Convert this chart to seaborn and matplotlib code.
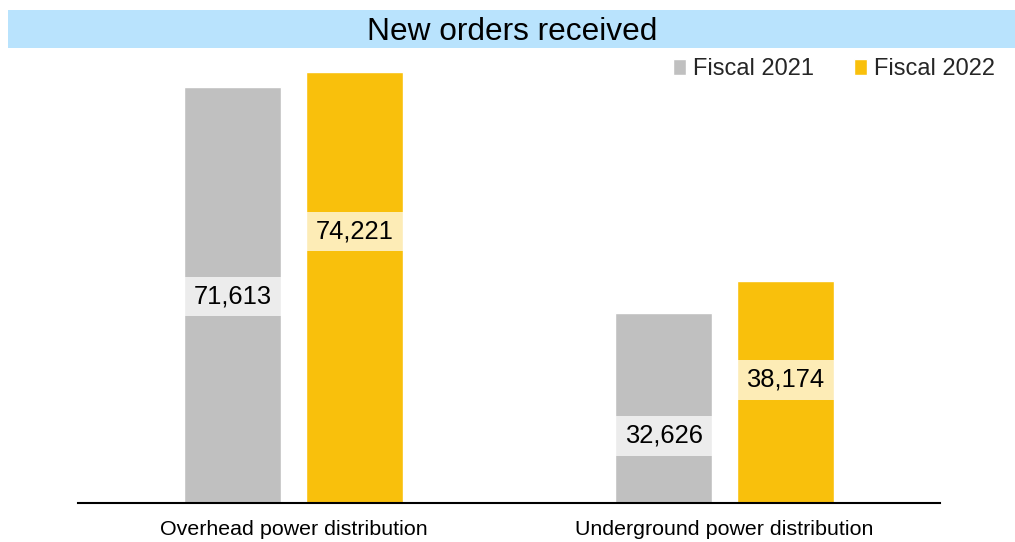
import matplotlib
matplotlib.use("Agg")
import matplotlib.pyplot as plt
from matplotlib.patches import Rectangle
import pandas as pd
import seaborn as sns

categories = ["Overhead power distribution", "Underground power distribution"]
years = ["Fiscal 2021", "Fiscal 2022"]
fiscal_2021 = [71613, 32626]
fiscal_2022 = [74221, 38174]
colors = ["#c0c0c0", "#f9c00c"]

# where each value label sits, as a fraction of its bar height
label_frac_2021 = [0.496, 0.354]
label_frac_2022 = [0.630, 0.555]

df = pd.DataFrame({
    "category": categories * 2,
    "year": [years[0]] * 2 + [years[1]] * 2,
    "orders": fiscal_2021 + fiscal_2022,
})

sns.set_theme(style="white")
plt.rcParams["font.family"] = ["Liberation Sans", "DejaVu Sans"]

fig = plt.figure(figsize=(10.15, 5.42), dpi=100)
ax = fig.add_axes([0.0768, 0.072, 0.8493, 0.8147])

sns.barplot(data=df, x="category", y="orders", hue="year", palette=colors,
            width=0.565, gap=0.2, saturation=1, ax=ax)

ax.set_ylim(0, 76000)
ax.set_xlim(-0.5, 1.5)
ax.set_xlabel("")
ax.set_ylabel("")
ax.set_yticks([])
ax.tick_params(axis="x", length=0, pad=12, labelsize=15.4, colors="black")
for side in ["top", "left", "right"]:
    ax.spines[side].set_visible(False)
ax.spines["bottom"].set_color("black")
ax.spines["bottom"].set_linewidth(1.5)

# value labels on semi-transparent boxes across the bar width
box_h = 6800
for container, fracs in zip(ax.containers, [label_frac_2021, label_frac_2022]):
    for bar, val, frac in zip(container.patches, container.datavalues, fracs):
        cy = bar.get_y() + bar.get_height() * frac
        ax.add_patch(Rectangle((bar.get_x(), cy - box_h / 2), bar.get_width(), box_h,
                               facecolor="white", alpha=0.7, edgecolor="none", zorder=3))
        ax.text(bar.get_x() + bar.get_width() / 2, cy, f"{val:,.0f}", ha="center",
                va="center", fontsize=18.4, color="black", zorder=4)

handles, labels = ax.get_legend_handles_labels()
ax.legend(handles, labels, loc="center right", bbox_to_anchor=(0.992, 0.872),
          bbox_transform=fig.transFigure, ncol=2, frameon=False, fontsize=17,
          handlelength=0.55, handleheight=0.7, handletextpad=0.3, columnspacing=1.7,
          borderpad=0)

# title band
fig.patches.append(Rectangle((8 / 1015, (542 - 48) / 542), 1 - 8 / 1015, 38 / 542,
                             transform=fig.transFigure, facecolor="#b9e3fd",
                             edgecolor="none", zorder=0))
fig.text(512 / 1015, (542 - 32) / 542, "New orders received", ha="center", va="center",
         fontsize=22.8, color="black")

fig.savefig("out.png", dpi=100)
